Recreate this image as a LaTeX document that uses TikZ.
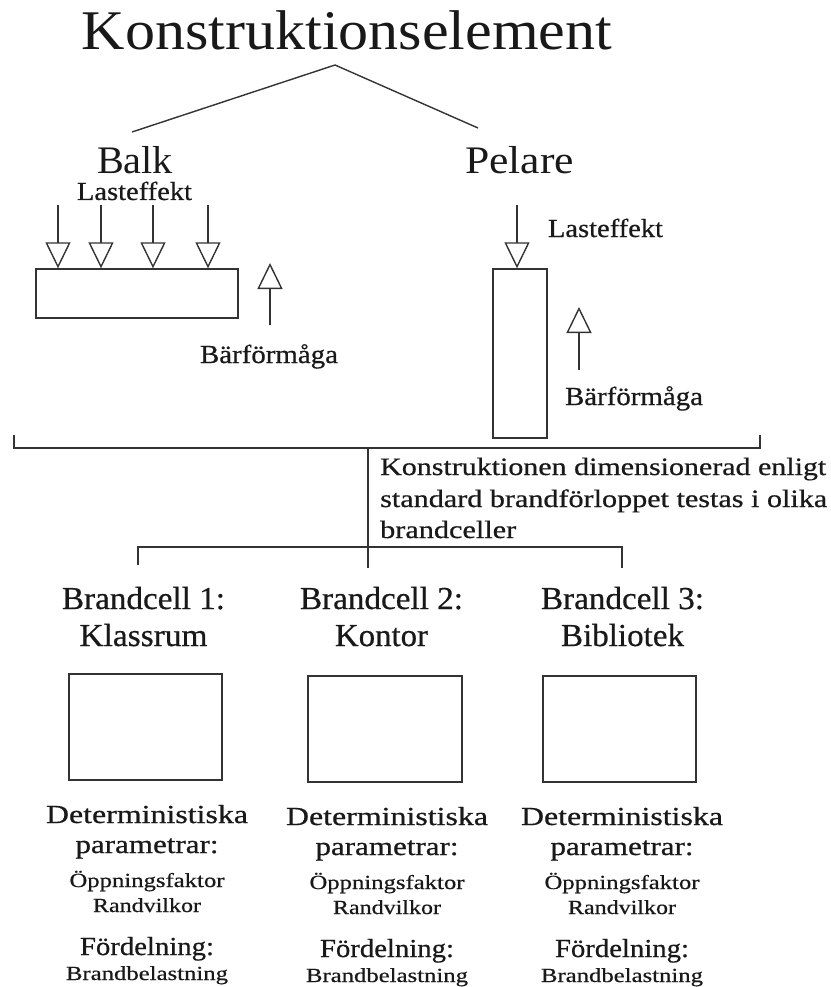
\documentclass[tikz,border=0pt]{standalone}
\usepackage{fontspec}
\setmainfont{Liberation Serif}
\newfontfamily\heavyfont[FakeBold=0.6]{Liberation Serif}
\usetikzlibrary{arrows.meta}
% set a line of text to a given width, keeping its height
\newcommand\fitw[2]{\resizebox{#1pt}{\height}{#2}}

\begin{document}
\begin{tikzpicture}[x=1pt,y=-1pt,
  txt/.style={inner sep=0pt, anchor=base, text=black!90},
  ln/.style={line width=1.4pt, draw=black!80},
  load/.style={ln, -{Triangle[open, width=25pt, length=26pt, fill=white]}},
  member/.style={ln, rectangle, inner sep=0pt},
  big/.style={font=\fontsize{56}{60}\selectfont},
  mid/.style={font=\fontsize{39}{44}\selectfont},
  cell/.style={font=\heavyfont\fontsize{32}{36}\selectfont},
  par/.style={font=\heavyfont\fontsize{26}{30}\selectfont},
  desc/.style={font=\heavyfont\fontsize{25}{30}\selectfont},
  small/.style={font=\heavyfont\fontsize{20}{24}\selectfont},
  ]
\useasboundingbox (0,0) rectangle (830,987);

% headings
\node[txt, big] (title) at (347,50) {\fitw{530}{Konstruktionselement}};
\node[txt, mid] (balk) at (135,173) {\fitw{76}{Balk}};
\node[txt, mid] (pelare) at (519.5,173) {\fitw{109}{Pelare}};

\coordinate (apex) at (335,65);
\coordinate (lb) at (132,132);
\coordinate (rb) at (478,128);
\draw[ln] (lb) -- (apex) -- (rb);

% beam with distributed load
\node[member, minimum width=202pt, minimum height=49pt] (balkbox) at (137,293.5) {};
\node[txt, par] (lastB) at (134.5,200) {\fitw{115}{Lasteffekt}};
\foreach \x [count=\k] in {58,101,153,208} {
  \coordinate (qb\k) at (\x,205);
  \draw[load] (qb\k) -- (qb\k |- balkbox.north);
}
\coordinate (rB0) at (270,325);
\coordinate (rB1) at (270,263);
\draw[load] (rB0) -- (rB1);
\node[txt, par] (barB) at (269,363) {\fitw{138}{Bärförmåga}};

% column with point load
\node[member, minimum width=54pt, minimum height=169pt] (pelbox) at (520,353.5) {};
\coordinate (qp) at (517,205);
\draw[load] (qp) -- (qp |- pelbox.north);
\node[txt, par] (lastP) at (605.5,237) {\fitw{115}{Lasteffekt}};
\coordinate (rP0) at (579,370);
\coordinate (rP1) at (579,307);
\draw[load] (rP0) -- (rP1);
\node[txt, par] (barP) at (634,405) {\fitw{138}{Bärförmåga}};

% joining brackets
\coordinate (hl) at (14,448);
\coordinate (hr) at (760,448);
\coordinate (hm) at (368,448);
\coordinate (bm) at (368,568);
\draw[ln] (14,435) -- (hl) -- (hr) -- (760,435);
\draw[ln] (hm) -- (bm);
\coordinate (bl) at (138,547);
\coordinate (br) at (622,547);
\draw[ln] (138,565) -- (bl) -- (br) -- (622,568);

\node[txt, desc, anchor=base west] (d1) at (380,475) {\fitw{446}{Konstruktionen dimensionerad enligt}};
\node[txt, desc, anchor=base west] (d2) at (380,507) {\fitw{447}{standard brandförloppet testas i olika}};
\node[txt, desc, anchor=base west] (d3) at (380,538) {\fitw{136}{brandceller}};

% fire cells
\foreach \cx/\i/\room/\w in {143.5/1/Klassrum/128, 381.5/2/Kontor/93, 622.5/3/Bibliotek/123} {
  \node[txt, cell] (bc\i) at (\cx,609) {\fitw{163}{Brandcell \i:}};
  \node[txt, cell] (rm\i) at (\cx,646) {\fitw{\w}{\room}};
}
\node[member, minimum width=153pt, minimum height=106pt] (cellbox1) at (145.5,727) {};
\node[member, minimum width=154pt, minimum height=106pt] (cellbox2) at (385,729) {};
\node[member, minimum width=153pt, minimum height=106pt] (cellbox3) at (619.5,729) {};

\foreach \cx/\dy/\i in {147/0/1, 387/2/2, 622/2/3} {
  \node[txt, par] (det\i) at (\cx,823+\dy) {\fitw{202}{Deterministiska}};
  \node[txt, par] (par\i) at (\cx,853+\dy) {\fitw{143}{parametrar:}};
  \node[txt, small] (opp\i) at (\cx,887+\dy) {\fitw{155}{Öppningsfaktor}};
  \node[txt, small] (rand\i) at (\cx,912+\dy) {\fitw{108}{Randvilkor}};
  \node[txt, par] (ford\i) at (\cx,955+\dy) {\fitw{134}{Fördelning:}};
  \node[txt, small] (bb\i) at (\cx,980+\dy) {\fitw{162}{Brandbelastning}};
}
\end{tikzpicture}
\end{document}
